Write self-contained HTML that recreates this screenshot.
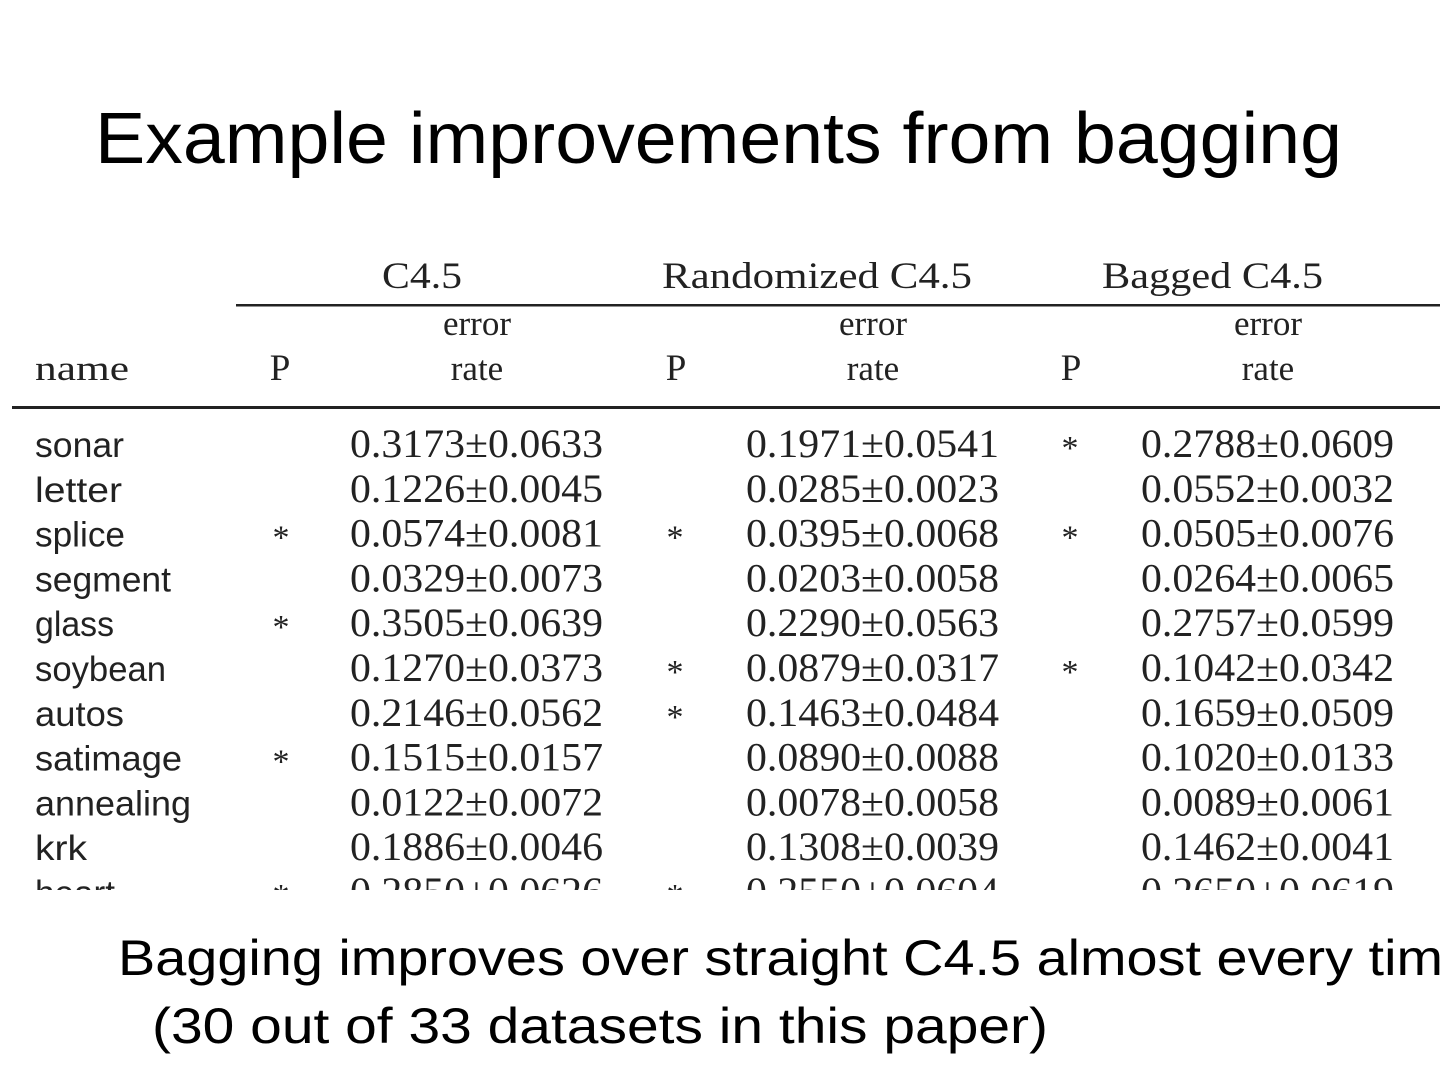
<!DOCTYPE html>
<html><head><meta charset="utf-8"><style>
html,body{margin:0;padding:0;background:#fff;width:1440px;height:1080px;overflow:hidden}
svg{display:block}
.s{font-family:"Liberation Serif",serif;fill:#222}
.n{font-family:"Liberation Sans",sans-serif;fill:#222;font-size:35px}
.v{font-family:"Liberation Serif",serif;fill:#222;font-size:40px}
.st{font-family:"Liberation Serif",serif;fill:#222;font-size:34px}
</style></head><body>
<svg width="1440" height="1080" viewBox="0 0 1440 1080" xmlns="http://www.w3.org/2000/svg">
<text x="95" y="163" font-family="Liberation Sans, sans-serif" font-size="72" fill="#000" textLength="1247" lengthAdjust="spacingAndGlyphs">Example improvements from bagging</text>

<text class="s" x="382" y="288" font-size="37" textLength="80" lengthAdjust="spacingAndGlyphs">C4.5</text>
<text class="s" x="662" y="288" font-size="37" textLength="310" lengthAdjust="spacingAndGlyphs">Randomized C4.5</text>
<text class="s" x="1102" y="288" font-size="37" textLength="221" lengthAdjust="spacingAndGlyphs">Bagged C4.5</text>
<rect x="236" y="304" width="1204" height="2.5" fill="#222"/>
<g class="s" font-size="35" text-anchor="middle">
<text x="477" y="335">error</text><text x="873" y="335">error</text><text x="1268" y="335">error</text>
<text x="477" y="380">rate</text><text x="873" y="380">rate</text><text x="1268" y="380">rate</text>
<text x="280" y="380" font-size="37">P</text><text x="676" y="380" font-size="37">P</text><text x="1071" y="380" font-size="37">P</text>
</g>
<text class="s" x="35" y="380" font-size="35" textLength="94" lengthAdjust="spacingAndGlyphs">name</text>
<rect x="12" y="406" width="1428" height="3" fill="#222"/>

<defs><clipPath id="c"><rect x="0" y="0" width="1440" height="890"/></clipPath></defs>
<g clip-path="url(#c)">
<g id="rows">
</g>
</g>

<text x="118" y="975" font-family="Liberation Sans, sans-serif" font-size="50" fill="#000" textLength="1325" lengthAdjust="spacingAndGlyphs">Bagging improves over straight C4.5  almost every tim</text>
<text x="152" y="1043" font-family="Liberation Sans, sans-serif" font-size="50" fill="#000" textLength="896" lengthAdjust="spacingAndGlyphs">(30 out of 33 datasets in this paper)</text>
</svg>
<script>
var d=[["sonar","","0.3173±0.0633","","0.1971±0.0541","*","0.2788±0.0609",89],
["letter","","0.1226±0.0045","","0.0285±0.0023","","0.0552±0.0032",87],
["splice","*","0.0574±0.0081","*","0.0395±0.0068","*","0.0505±0.0076",90],
["segment","","0.0329±0.0073","","0.0203±0.0058","","0.0264±0.0065",136],
["glass","*","0.3505±0.0639","","0.2290±0.0563","","0.2757±0.0599",79],
["soybean","","0.1270±0.0373","*","0.0879±0.0317","*","0.1042±0.0342",131],
["autos","","0.2146±0.0562","*","0.1463±0.0484","","0.1659±0.0509",89],
["satimage","*","0.1515±0.0157","","0.0890±0.0088","","0.1020±0.0133",147],
["annealing","","0.0122±0.0072","","0.0078±0.0058","","0.0089±0.0061",156],
["krk","","0.1886±0.0046","","0.1308±0.0039","","0.1462±0.0041",52],
["heart","*","0.2850±0.0626","*","0.2550±0.0604","","0.2650±0.0619",80]];
var g=document.getElementById("rows"),s="";
var vx=[350,746,1141],sx=[281,675,1070];
for(var i=0;i<d.length;i++){var y=457+44.8*i,r=d[i];
s+='<text class="n" x="35" y="'+y+'" textLength="'+r[7]+'" lengthAdjust="spacingAndGlyphs">'+r[0]+'</text>';
for(var k=0;k<3;k++){
if(r[1+2*k])s+='<text class="st" x="'+sx[k]+'" y="'+(y+2)+'" text-anchor="middle">*</text>';
s+='<text class="v" x="'+vx[k]+'" y="'+y+'" textLength="253" lengthAdjust="spacingAndGlyphs">'+r[2+2*k]+'</text>';}}
g.innerHTML=s;
</script>
</body></html>
